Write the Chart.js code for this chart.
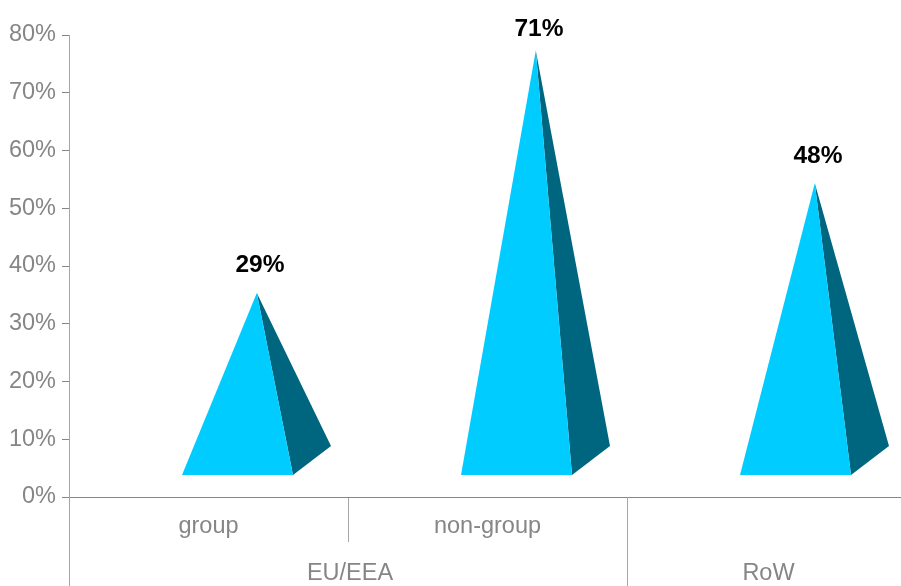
<!DOCTYPE html>
<html>
<head>
<meta charset="utf-8">
<style>html,body{margin:0;padding:0;background:#fff;overflow:hidden;width:901px;height:586px}canvas{display:block}</style>
<script src="https://cdn.jsdelivr.net/npm/chart.js@4"></script>
</head>
<body>
<canvas id="c" width="906" height="586"></canvas>
<script>
const categories = ['group', 'non-group', ''];
const values = [29, 71, 48];
const valueLabels = ['29%', '71%', '48%'];
const groupLabels = ['EU/EEA', 'RoW'];
const groupSpans = [2, 1];
const yTicks = [0, 10, 20, 30, 40, 50, 60, 70, 80];

const FONT = '"Liberation Sans", Arial, sans-serif';
const GREY = '#868686';
const LINE = '#a6a6a6';

const pyramids = {
  id: 'pyramids',
  afterDatasetsDraw(chart) {
    const ctx = chart.ctx, y0 = chart.scales.y.getPixelForValue(0);
    chart.getDatasetMeta(0).data.forEach((bar, i) => {
      const cx = bar.x, apexX = cx + 48.3, apexY = bar.y - 36.5;
      const fy = y0 - 22, by = y0 - 51;
      ctx.fillStyle = '#006680';
      ctx.beginPath();
      ctx.moveTo(apexX, apexY);
      ctx.lineTo(cx + 122.5, by);
      ctx.lineTo(cx + 84.5, fy);
      ctx.closePath();
      ctx.fill();
      ctx.fillStyle = '#00ccff';
      ctx.beginPath();
      ctx.moveTo(apexX, apexY);
      ctx.lineTo(cx - 26.5, fy);
      ctx.lineTo(cx + 84.5, fy);
      ctx.closePath();
      ctx.fill();
      ctx.fillStyle = '#000';
      ctx.font = 'bold 24.5px ' + FONT;
      ctx.textAlign = 'center';
      ctx.textBaseline = 'middle';
      ctx.fillText(valueLabels[i], apexX + 3.2, Math.max(apexY - 27.5, 29));
    });
  }
};

const groupAxis = {
  id: 'groupAxis',
  afterDraw(chart) {
    const ctx = chart.ctx, x = chart.scales.x, top = chart.chartArea.bottom;
    const half = (x.getPixelForValue(1) - x.getPixelForValue(0)) / 2;
    let start = 0;
    ctx.strokeStyle = LINE;
    ctx.lineWidth = 1;
    ctx.fillStyle = GREY;
    ctx.font = '23.5px ' + FONT;
    ctx.textAlign = 'center';
    ctx.textBaseline = 'middle';
    const left = x.getPixelForValue(0) - half;
    ctx.beginPath();
    ctx.moveTo(Math.round(left) + 0.5, top);
    ctx.lineTo(Math.round(left) + 0.5, 586);
    ctx.stroke();
    groupLabels.forEach((label, i) => {
      const end = start + groupSpans[i];
      const a = x.getPixelForValue(start) - half, b = x.getPixelForValue(end - 1) + half;
      ctx.fillText(label, (a + b) / 2 + 2, 574);
      ctx.beginPath();
      ctx.moveTo(Math.round(b) + 0.5, top);
      ctx.lineTo(Math.round(b) + 0.5, 586);
      ctx.stroke();
      start = end;
    });
  }
};

new Chart(document.getElementById('c'), {
  type: 'bar',
  data: {
    labels: categories,
    datasets: [{ data: values, backgroundColor: 'rgba(0,0,0,0)', borderWidth: 0 }]
  },
  plugins: [pyramids, groupAxis],
  options: {
    responsive: false,
    animation: false,
    events: [],
    layout: { padding: { top: 35, right: 0, bottom: 0, left: 0 } },
    plugins: { legend: { display: false }, title: { display: false }, tooltip: { enabled: false } },
    scales: {
      x: {
        type: 'category',
        afterFit(s) { s.height = 89; },
        border: { color: GREY, width: 1 },
        grid: { offset: true, drawOnChartArea: false, drawTicks: true, tickLength: 45, color: LINE, tickColor: LINE },
        ticks: { color: GREY, font: { family: FONT, size: 23.5 }, padding: -30, maxRotation: 0, autoSkip: false }
      },
      y: {
        type: 'linear',
        min: 0,
        max: 80,
        afterFit(s) { s.width = 69; },
        afterBuildTicks(s) { s.ticks = yTicks.map(v => ({ value: v })); },
        border: { color: LINE, width: 1 },
        grid: { drawOnChartArea: false, drawTicks: true, tickLength: 7, color: LINE, tickColor: GREY },
        ticks: { color: GREY, font: { family: FONT, size: 23.5 }, padding: 6, callback: v => v + '%' }
      }
    }
  }
});
</script>
</body>
</html>
